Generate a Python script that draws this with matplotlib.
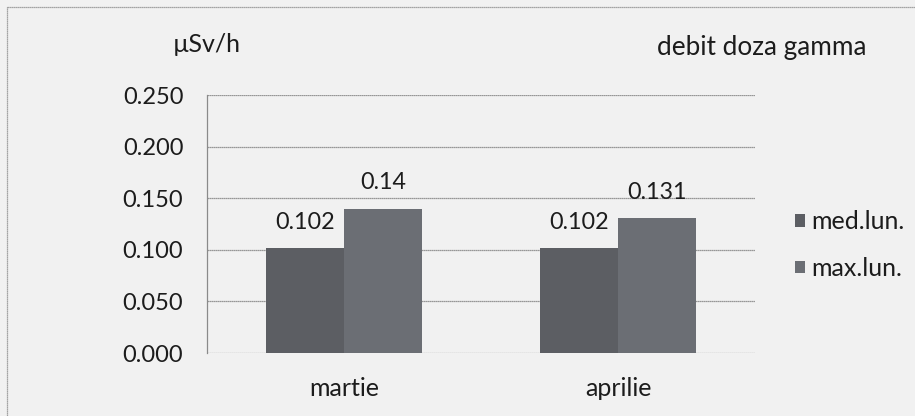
import matplotlib
matplotlib.use('Agg')
from matplotlib import pyplot as plt
from matplotlib.lines import Line2D
import numpy as np

luni = ['martie', 'aprilie']
med_lun = [0.102, 0.102]
max_lun = [0.14, 0.131]
max_labels = ['0.14', '0.131']
yticks = [0.0, 0.05, 0.10, 0.15, 0.20, 0.25]

plt.rcParams['font.family'] = ['Lato', 'DejaVu Sans']
plt.rcParams['font.size'] = 18

txt = '#1c1c1c'
bg = '#f1f1f1'
fig = plt.figure(figsize=(9.15, 4.16), dpi=100, facecolor=bg)
ax = fig.add_axes([0.2262, 0.1514, 0.599, 0.620])
ax.set_facecolor(bg)

x = np.arange(len(luni))
w = 0.285
b1 = ax.bar(x - w / 2, med_lun, w, color='#5c5e63', label='med.lun.', zorder=3)
b2 = ax.bar(x + w / 2, max_lun, w, color='#6b6e74', label='max.lun.', zorder=3)
ax.bar_label(b1, labels=['%.3f' % v for v in med_lun], padding=11, color=txt, fontsize=16.8)
ax.bar_label(b2, labels=max_labels, padding=11, color=txt, fontsize=16.8)

ax.set_xlim(-0.5, 1.5)
ax.set_ylim(0, 0.25)
ax.set_yticks(yticks)
ax.set_yticklabels(['%.3f' % t for t in yticks], color=txt, fontsize=17)
ax.set_xticks(x)
ax.set_xticklabels(luni, color=txt, fontsize=18)
ax.tick_params(axis='y', length=0, pad=17)
ax.tick_params(axis='x', length=0, pad=17)
ax.grid(axis='y', color='#7a7a7a', linewidth=0.9, linestyle=(0, (1, 0.6)), zorder=0)
for s in ['top', 'right', 'bottom']:
    ax.spines[s].set_visible(False)
ax.spines['left'].set_color('#8a8a8a')
ax.spines['left'].set_linewidth(0.9)

fig.text(207 / 915, 1 - 45 / 416, 'µSv/h', ha='center', va='center', color=txt, fontsize=18)
fig.text(762 / 915, 1 - 48 / 416, 'debit doza gamma', ha='center', va='center', color=txt,
         fontsize=18.8)

fig.legend(loc='center left', bbox_to_anchor=(795 / 915, 1 - 245 / 416), frameon=False,
           borderpad=0, borderaxespad=0, handlelength=0.4, handleheight=0.4,
           handletextpad=0.25, labelspacing=0.95, labelcolor=txt, fontsize=18)

# chenar exterior
fig.add_artist(Line2D([7 / 915, 7 / 915], [0, 1 - 7 / 416], transform=fig.transFigure,
                      color='#8a8a8a', linewidth=0.9, linestyle=(0, (1, 0.6))))
fig.add_artist(Line2D([7 / 915, 1], [1 - 7 / 416, 1 - 7 / 416], transform=fig.transFigure,
                      color='#8a8a8a', linewidth=0.9, linestyle=(0, (1, 0.6))))

fig.savefig('out.png', dpi=100, facecolor=bg)
